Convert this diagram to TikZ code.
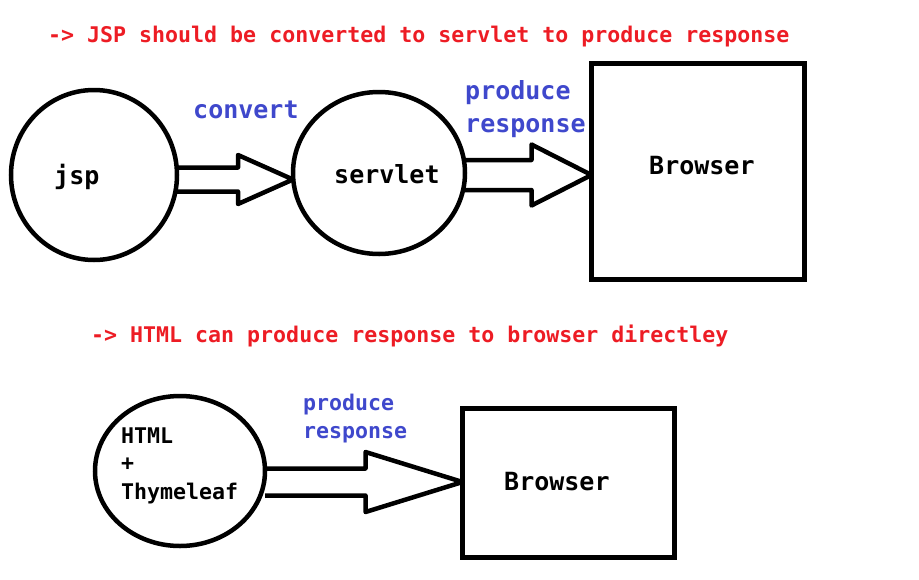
\documentclass[tikz,border=0pt]{standalone}
\usepackage{fontspec}
\setmonofont{DejaVu Sans Mono}
\usetikzlibrary{shapes.geometric,calc}
\definecolor{notered}{RGB}{237,28,36}
\definecolor{noteblue}{RGB}{63,72,204}
% fat arrow: from, to, y shift, shaft half, head half, head length
\newcommand{\blockarrow}[6]{%
  \draw[arrowline] let \p1=(#1), \p2=($(#2)+(0,#3)$) in
    (\x1,\y2+#4) -- (\x2-#6,\y2+#4) -- (\x2-#6,\y2+#5) -- (\x2,\y2)
    -- (\x2-#6,\y2-#5) -- (\x2-#6,\y2-#4) -- (\x1,\y2-#4);}

\begin{document}
\begin{tikzpicture}[x=1pt,y=-1pt,
    outline/.style={draw,line width=4.5pt,outer sep=0pt,inner sep=0pt},
    arrowline/.style={line width=4.5pt,line join=round},
    txt/.style={anchor=base west,inner sep=0pt,font=\ttfamily\bfseries\fontsize{25}{30}\selectfont},
    smalltxt/.style={txt,font=\ttfamily\bfseries\fontsize{21.6}{26}\selectfont},
    note/.style={smalltxt,text=notered},
    bluetxt/.style={txt,text=noteblue},
    smallblue/.style={smalltxt,text=noteblue}]
    \useasboundingbox (0,0) rectangle (919,579);
    % jsp -> servlet -> browser
    \node[note] (note1) at (48,42) {-> JSP should be converted to servlet to produce response};
    \node[outline,ellipse,minimum width=166pt,minimum height=170pt] (jsp) at (94,175) {};
    \node[outline,ellipse,minimum width=172pt,minimum height=162pt] (servlet) at (379,173) {};
    \node[outline,minimum width=213pt,minimum height=216pt] (browser) at (698,171.5) {};
    \node[txt] (jspText) at (54,184) {jsp};
    \node[txt] (servletText) at (334,183) {servlet};
    \node[txt] (browserText) at (649,174) {Browser};
    \node[bluetxt] (convertText) at (193,118) {convert};
    \node[bluetxt] (produceText) at (465,99) {produce};
    \node[bluetxt] (responseText) at (465,132) {response};
    \blockarrow{jsp.east}{servlet.west}{-6.5pt}{12pt}{24.5pt}{55pt}
    \blockarrow{servlet.east}{browser.west}{-3.5pt}{15pt}{30.5pt}{60pt}
    % html -> browser
    \node[note] (note2) at (91,342) {-> HTML can produce response to browser directley};
    \node[outline,ellipse,minimum width=170pt,minimum height=150pt] (html) at (180,471) {};
    \node[outline,minimum width=212pt,minimum height=149pt] (browser2) at (568.5,483) {};
    \node[smalltxt] (htmlText) at (121,443) {HTML};
    \node[smalltxt] (plusText) at (121,470) {+};
    \node[smalltxt] (thymeText) at (121,499) {Thymeleaf};
    \node[smallblue] (produceText2) at (303,410) {produce};
    \node[smallblue] (responseText2) at (303,438) {response};
    \node[txt] (browserText2) at (504,490) {Browser};
    \blockarrow{html.east}{browser2.west}{1pt}{13.5pt}{30pt}{97pt}
\end{tikzpicture}
\end{document}
